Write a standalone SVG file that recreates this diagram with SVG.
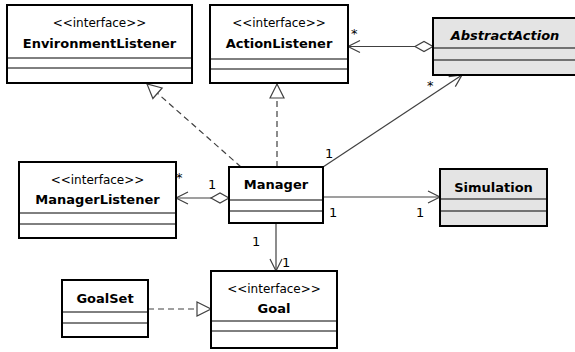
<svg xmlns="http://www.w3.org/2000/svg" width="575" height="352" viewBox="0 0 575 352">
<style>
.box{fill:#ffffff;stroke:#000;stroke-width:2}
.abs{fill:#e4e4e4;stroke:#000;stroke-width:2}
.div{stroke:#000;stroke-width:1;fill:none}
.name{font-family:"DejaVu Sans",sans-serif;font-size:13px;font-weight:bold;text-anchor:middle;fill:#000}
.ital{font-style:italic}
.stereo{font-family:"DejaVu Sans",sans-serif;font-size:12px;text-anchor:middle;fill:#000}
.lbl{font-family:"DejaVu Sans",sans-serif;font-size:13px;fill:#000}
.assoc{stroke:#404040;stroke-width:1.2;fill:none}
.dash{stroke:#404040;stroke-width:1.2;fill:none;stroke-dasharray:6 4}
</style>
<defs>
<marker id="open" markerUnits="userSpaceOnUse" markerWidth="14" markerHeight="14" refX="12" refY="6" orient="auto" overflow="visible">
<path d="M0,0 L12,6 L0,12" fill="none" stroke="#404040" stroke-width="1.2" stroke-dasharray="none"/>
</marker>
<marker id="tri" markerUnits="userSpaceOnUse" markerWidth="16" markerHeight="16" refX="14" refY="7" orient="auto" overflow="visible">
<path d="M0,0 L14,7 L0,14 Z" fill="#fff" stroke="#404040" stroke-width="1.2" stroke-dasharray="none"/>
</marker>
<marker id="dia" markerUnits="userSpaceOnUse" markerWidth="20" markerHeight="12" refX="0" refY="5" orient="auto" overflow="visible">
<path d="M0,5 L9,0 L18,5 L9,10 Z" fill="#fff" stroke="#404040" stroke-width="1.2" stroke-dasharray="none"/>
</marker>
</defs>
<g id="connectors">
<line class="assoc" x1="433" y1="46.5" x2="348" y2="46.5" marker-start="url(#dia)" marker-end="url(#open)"/>
<text class="lbl" x="351" y="38">*</text>
<line class="assoc" x1="229" y1="198" x2="176" y2="198" marker-start="url(#dia)" marker-end="url(#open)"/>
<text class="lbl" x="176" y="182">*</text>
<text class="lbl" x="208" y="189">1</text>
<line class="assoc" x1="323" y1="197" x2="440" y2="197" marker-end="url(#open)"/>
<text class="lbl" x="329" y="217">1</text>
<text class="lbl" x="416" y="217">1</text>
<line class="assoc" x1="276" y1="223" x2="276" y2="271" marker-end="url(#open)"/>
<text class="lbl" x="252" y="246">1</text>
<text class="lbl" x="282" y="267">1</text>
<line class="assoc" x1="323" y1="167" x2="462" y2="75" marker-end="url(#open)"/>
<text class="lbl" x="325" y="158">1</text>
<text class="lbl" x="427" y="90">*</text>
<line class="dash" x1="241" y1="167" x2="147" y2="84" marker-end="url(#tri)"/>
<line class="dash" x1="277" y1="167" x2="277" y2="84" marker-end="url(#tri)"/>
<line class="dash" x1="148" y1="309" x2="211" y2="309" marker-end="url(#tri)"/>
</g>
<g id="EnvironmentListener">
<rect class="box" x="7" y="5" width="185" height="78"/>
<line class="div" x1="7" y1="58" x2="192" y2="58"/>
<line class="div" x1="7" y1="68" x2="192" y2="68"/>
<text class="stereo" x="99.5" y="27">&lt;&lt;interface&gt;&gt;</text>
<text class="name" x="99.5" y="48">EnvironmentListener</text>
</g>
<g id="ActionListener">
<rect class="box" x="210" y="5" width="138" height="78"/>
<line class="div" x1="210" y1="59" x2="348" y2="59"/>
<line class="div" x1="210" y1="69" x2="348" y2="69"/>
<text class="stereo" x="279" y="27">&lt;&lt;interface&gt;&gt;</text>
<text class="name" x="279" y="48">ActionListener</text>
</g>
<g id="AbstractAction">
<rect class="abs" x="433" y="18" width="150" height="57"/>
<line class="div" x1="433" y1="48" x2="583" y2="48"/>
<line class="div" x1="433" y1="60" x2="583" y2="60"/>
<text class="name ital" x="505" y="40">AbstractAction</text>
</g>
<g id="ManagerListener">
<rect class="box" x="19" y="162" width="157" height="76"/>
<line class="div" x1="19" y1="213" x2="176" y2="213"/>
<line class="div" x1="19" y1="224" x2="176" y2="224"/>
<text class="stereo" x="97.5" y="184">&lt;&lt;interface&gt;&gt;</text>
<text class="name" x="97.5" y="204">ManagerListener</text>
</g>
<g id="Manager">
<rect class="box" x="229" y="167" width="94" height="56"/>
<line class="div" x1="229" y1="200" x2="323" y2="200"/>
<line class="div" x1="229" y1="211" x2="323" y2="211"/>
<text class="name" x="276" y="189">Manager</text>
</g>
<g id="Simulation">
<rect class="abs" x="440" y="169" width="107" height="57"/>
<line class="div" x1="440" y1="199" x2="547" y2="199"/>
<line class="div" x1="440" y1="211" x2="547" y2="211"/>
<text class="name" x="493.5" y="192">Simulation</text>
</g>
<g id="GoalSet">
<rect class="box" x="62" y="280" width="86" height="57"/>
<line class="div" x1="62" y1="312" x2="148" y2="312"/>
<line class="div" x1="62" y1="323" x2="148" y2="323"/>
<text class="name" x="105" y="303">GoalSet</text>
</g>
<g id="Goal">
<rect class="box" x="211" y="271" width="126" height="77"/>
<line class="div" x1="211" y1="321" x2="337" y2="321"/>
<line class="div" x1="211" y1="331" x2="337" y2="331"/>
<text class="stereo" x="274" y="293">&lt;&lt;interface&gt;&gt;</text>
<text class="name" x="274" y="313">Goal</text>
</g>
</svg>
